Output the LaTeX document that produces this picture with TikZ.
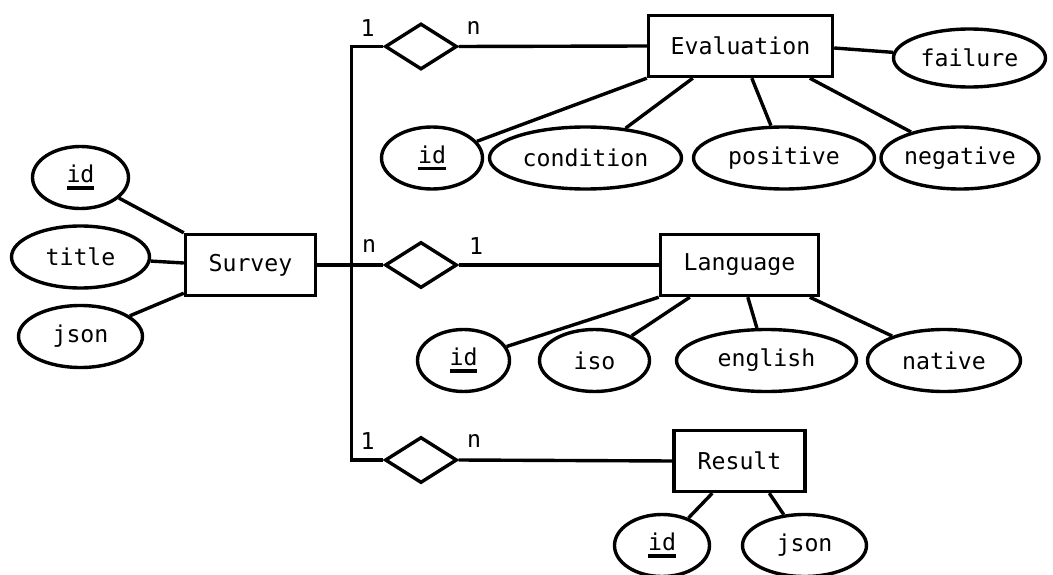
\documentclass[tikz,border=0pt]{standalone}
\usepackage{fontspec}
\setmainfont{DejaVu Sans Mono}
\usetikzlibrary{shapes.geometric,calc}
\newcommand\keyattr[1]{\setbox0\hbox{#1}\rlap{\rule[-7pt]{\wd0}{3.4pt}}#1}
\tikzset{
  every node/.style={font=\fontsize{23.2}{27}\selectfont},
  ent/.style={draw,line width=3.4pt,rectangle,inner sep=0pt},
  attr/.style={draw,line width=3.4pt,ellipse,inner sep=0pt},
  rel/.style={draw,line width=3.4pt,diamond,inner sep=0pt,minimum width=72pt,minimum height=46pt},
  conn/.style={line width=3.4pt},
  card/.style={inner sep=0pt}
}
\begin{document}
\begin{tikzpicture}[x=1pt,y=-1pt]
\useasboundingbox (0,0) rectangle (1053,575);
% entities
\node[ent,minimum width=130pt,minimum height=61pt] (sv) at (250.5,265) {Survey};
\node[ent,minimum width=184pt,minimum height=61pt] (ev) at (740.5,46) {Evaluation};
\node[ent,minimum width=158pt,minimum height=61pt] (la) at (739.5,265) {Language};
\node[ent,minimum width=131pt,minimum height=61pt] (re) at (739.5,461) {Result};
% relationships
\node[rel] (d1) at (421,46.5) {};
\node[rel] (d2) at (421,265) {};
\node[rel] (d3) at (421,460) {};
\coordinate (bt) at (351.5,46.5);
\coordinate (bb) at (351.5,460);
% survey attributes
\node[attr,minimum width=96pt,minimum height=62pt] (svid) at (80.5,177.5) {\keyattr{id}};
\node[attr,minimum width=138pt,minimum height=62pt] (svtitle) at (80.5,257) {title};
\node[attr,minimum width=124pt,minimum height=62pt] (svjson) at (80.5,336.5) {json};
% evaluation attributes
\node[attr,minimum width=101pt,minimum height=62pt] (evid) at (432,158) {\keyattr{id}};
\node[attr,minimum width=192pt,minimum height=62pt] (evcond) at (585.5,158) {condition};
\node[attr,minimum width=181pt,minimum height=62pt] (evpos) at (784,158) {positive};
\node[attr,minimum width=157pt,minimum height=62pt] (evneg) at (960,158) {negative};
\node[attr,minimum width=152pt,minimum height=58pt] (evfail) at (969.5,58) {failure};
% language attributes
\node[attr,minimum width=92pt,minimum height=62pt] (laid) at (463.5,360.5) {\keyattr{id}};
\node[attr,minimum width=110pt,minimum height=62pt] (laiso) at (594.5,360.5) {iso};
\node[attr,minimum width=180pt,minimum height=62pt] (laeng) at (766.5,360.5) {english};
\node[attr,minimum width=153pt,minimum height=62pt] (lanat) at (944,360.5) {native};
% result attributes
\node[attr,minimum width=95pt,minimum height=62pt] (reid) at (662,545.5) {\keyattr{id}};
\node[attr,minimum width=124pt,minimum height=62pt] (rejson) at (804.5,545.5) {json};
% connectors
\draw[conn] (d1.west) -- (bt) -- (bb) -- (d3.west);
\draw[conn] (sv.east) -- (d2.west);
\draw[conn] (d1.east) -- (ev.west);
\draw[conn] (d2.east) -- (la.west);
\draw[conn] (d3.east) -- (re.west);
\draw[conn] (sv.north west) -- (svid);
\draw[conn] ($(sv.west)+(0,-2)$) -- (svtitle);
\draw[conn] ($(sv.south west)+(0,-4)$) -- (svjson);
\draw[conn] (ev.south west) -- (evid);
\draw[conn] ($(ev.south west)+(46,0)$) -- (evcond);
\draw[conn] ($(ev.south west)+(105,0)$) -- (evpos);
\draw[conn] ($(ev.south west)+(163,0)$) -- (evneg);
\draw[conn] ($(ev.east)+(0,2)$) -- (evfail);
\draw[conn] (la.south west) -- (laid);
\draw[conn] ($(la.south west)+(31,0)$) -- (laiso);
\draw[conn] ($(la.south west)+(89,0)$) -- (laeng);
\draw[conn] ($(la.south west)+(151,0)$) -- (lanat);
\draw[conn] ($(re.south west)+(40,0)$) -- (reid);
\draw[conn] ($(re.south west)+(97,0)$) -- (rejson);
% cardinalities
\node[card] (c1a) at (367.5,28) {1};
\node[card] (c1b) at (473.5,28) {n};
\node[card] (c2a) at (369,246) {n};
\node[card] (c2b) at (476,246) {1};
\node[card] (c3a) at (367.5,441) {1};
\node[card] (c3b) at (474,441) {n};
\end{tikzpicture}
\end{document}
